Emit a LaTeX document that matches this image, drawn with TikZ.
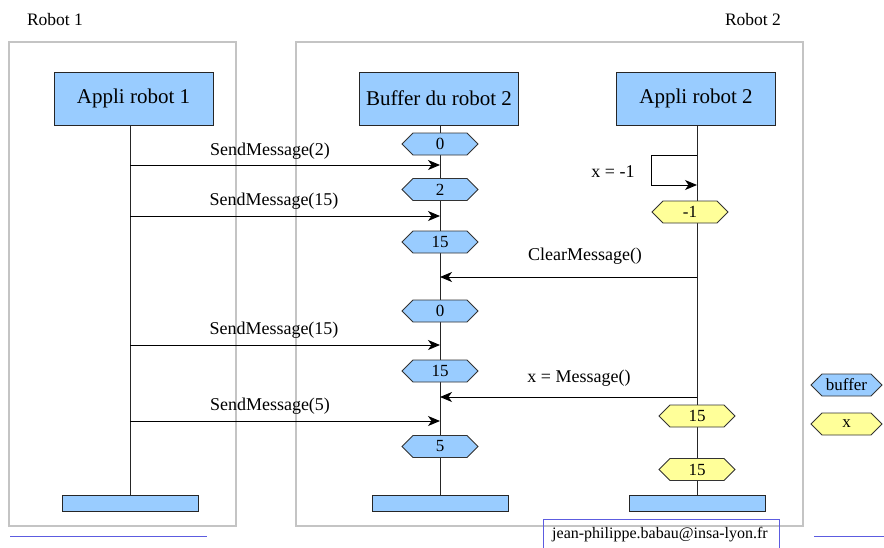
\documentclass[tikz,border=0pt]{standalone}
\usepackage{fontspec}
\setmainfont{Liberation Serif}
\usetikzlibrary{arrows.meta,shapes.symbols}
\definecolor{objblue}{HTML}{99CCFF}
\definecolor{varyellow}{HTML}{FFFF99}
\definecolor{framegray}{HTML}{C4C4C4}
\definecolor{footblue}{HTML}{5C5CE0}
\begin{document}
\begin{tikzpicture}[x=1pt,y=-1pt,
  frame/.style={draw=framegray, line width=1.4pt},
  obj/.style={draw=black!85, fill=objblue, line width=1pt, minimum width=159pt, minimum height=53pt, inner sep=0pt, font=\fontsize{21}{24}\selectfont},
  endbar/.style={draw=black!85, fill=objblue, line width=1pt, minimum width=136pt, minimum height=16pt, inner sep=0pt},
  hex/.style={signal, signal to=east and west, signal pointer angle=90, draw=black!80, line width=0.8pt, minimum width=76pt, minimum height=22pt, inner sep=0pt, font=\fontsize{17}{20}\selectfont},
  hexb/.style={hex, fill=objblue},
  hexy/.style={hex, fill=varyellow},
  life/.style={draw=black!85, line width=1pt},
  msg/.style={-{Stealth[length=12pt,width=10pt,inset=3.5pt]}, line width=0.95pt},
  lbl/.style={inner sep=0pt, font=\fontsize{18}{20}\selectfont},
  title/.style={inner sep=0pt, font=\fontsize{17.5}{20}\selectfont},
  foot/.style={draw=footblue, line width=1pt}
]
\useasboundingbox (0,0) rectangle (884,547);

% frames
\draw[frame] (9,42) rectangle (236,526);
\draw[frame] (296,42) rectangle (803,526);
\node[title] (r1) at (55,20) {Robot 1};
\node[title] (r2) at (753,20) {Robot 2};

% objects
\node[obj] (a1) at (133.5,98.5) {Appli robot 1};
\node[obj] (buf) at (439,98.5) {Buffer du robot 2};
\node[obj] (a2) at (696,98.5) {Appli robot 2};

% end bars
\node[endbar] (e1) at (130,503) {};
\node[endbar] (e2) at (440,503) {};
\node[endbar] (e3) at (697.5,503) {};

% lifelines
\draw[life] (a1.south -| e1.north) -- (e1.north);
\draw[life] (buf.south -| e2.north) -- (e2.north);
\draw[life] (a2.south -| e3.north) -- (e3.north);

% buffer states
\node[hexb] (h1) at (440,144) {0};
\node[hexb] (h2) at (440,189.5) {2};
\node[hexb] (h3) at (440,242) {15};
\node[hexb] (h4) at (440,311) {0};
\node[hexb] (h5) at (440,371) {15};
\node[hexb] (h6) at (440,446.5) {5};

% x states
\node[hexy] (y1) at (690,212) {-1};
\node[hexy] (y2) at (697,416) {15};
\node[hexy] (y3) at (697,469.5) {15};

% message endpoints
\coordinate (s1a) at (130,165);   \coordinate (s1b) at (440,165);
\coordinate (s2a) at (130,216);   \coordinate (s2b) at (440,216);
\coordinate (c1a) at (697,277);   \coordinate (c1b) at (440,277);
\coordinate (s3a) at (130,345);   \coordinate (s3b) at (440,345);
\coordinate (m1a) at (697,397);   \coordinate (m1b) at (440,397);
\coordinate (s4a) at (130,421);   \coordinate (s4b) at (440,421);
\coordinate (l1a) at (697,155);   \coordinate (l1b) at (697,185);

% messages
\draw[msg] (s1a) -- (s1b);
\draw[msg] (s2a) -- (s2b);
\draw[msg] (c1a) -- (c1b);
\draw[msg] (s3a) -- (s3b);
\draw[msg] (m1a) -- (m1b);
\draw[msg] (s4a) -- (s4b);
\draw[msg] (l1a) -- ++(-46,0) |- (l1b);

% labels
\node[lbl] (t1) at (270,151) {SendMessage(2)};
\node[lbl] (t2) at (274,201) {SendMessage(15)};
\node[lbl] (t3) at (585,256) {ClearMessage()};
\node[lbl] (t4) at (274,330) {SendMessage(15)};
\node[lbl] (t5) at (579,378) {x = Message()};
\node[lbl] (t6) at (270,406) {SendMessage(5)};
\node[lbl] (t7) at (613,172) {x = -1};

% legend
\node[hexb, minimum width=71pt] (lg1) at (846.5,385) {buffer};
\node[hexy, minimum width=71pt] (lg2) at (846.5,424) {x};

% footer
\draw[foot] (10,536) -- (207,536);
\draw[foot] (814,536) -- (884,536);
\draw[foot] (543,550) -- (543,519) -- (779,519) -- (779,550);
\node[inner sep=0pt, font=\fontsize{16}{18}\selectfont] (mail) at (660,535) {jean-philippe.babau@insa-lyon.fr};
\end{tikzpicture}
\end{document}
